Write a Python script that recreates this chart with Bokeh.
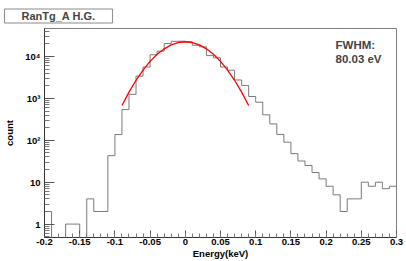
import numpy as np
from bokeh.plotting import figure
from bokeh.models import FixedTicker, Label, Range1d
from bokeh.embed import file_html
from bokeh.resources import INLINE

# ---------------- data ----------------
bin_left = [-0.20, -0.19, -0.18, -0.17, -0.16, -0.15, -0.14, -0.13, -0.12, -0.11,
            -0.10, -0.09, -0.08, -0.07, -0.06, -0.05, -0.04, -0.03, -0.02, -0.01,
            0.00, 0.01, 0.02, 0.03, 0.04, 0.05, 0.06, 0.07, 0.08, 0.09,
            0.10, 0.11, 0.12, 0.13, 0.14, 0.15, 0.16, 0.17, 0.18, 0.19,
            0.20, 0.21, 0.22, 0.23, 0.24, 0.25, 0.26, 0.27, 0.28, 0.29]
bin_width = 0.01
counts = [2, 0, 0, 1, 1, 0, 4, 2, 2, 43,
          137, 540, 1250, 3400, 5600, 11000, 13400, 20400, 23000, 23200,
          22400, 18500, 17000, 10500, 9300, 5600, 4700, 2750, 2040, 1110,
          810, 405, 246, 138, 90, 48, 32, 25, 17, 12,
          8, 5, 2, 4, 4, 10, 8, 10, 7, 8]

fit_x = [-0.09, -0.08, -0.07, -0.06, -0.05, -0.04, -0.03, -0.02, -0.01, 0.0,
         0.01, 0.02, 0.03, 0.04, 0.05, 0.06, 0.07, 0.08, 0.09]
fit_y = [678, 1415, 2705, 4740, 7630, 11260, 15250, 18920, 21550, 22500,
         21550, 18920, 15250, 11260, 7630, 4740, 2705, 1415, 678]

x_ticks = [-0.2, -0.15, -0.1, -0.05, 0.0, 0.05, 0.1, 0.15, 0.2, 0.25, 0.3]
x_tick_labels = ["-0.2", "-0.15", "-0.1", "-0.05", "0", "0.05", "0.1", "0.15", "0.2", "0.25", "0.3"]
y_ticks = [1, 10, 100, 1000, 10000]
y_tick_labels = ["1", "10", "10\u00b2", "10\u00b3", "10\u2074"]

title_text = "RanTg_A H.G."
fwhm_lines = ["FWHM:", "80.03 eV"]
x_title = "Energy(keV)"
y_title = "count"

# ---------------- layout helpers (pixel -> data, for text placement) ----------------
Y_LOG_MIN, Y_LOG_MAX = -0.32, 4.668
FRAME_L, FRAME_B, PX_PER_X, PX_PER_DEC = 44, 237, 704.0, 41.9


def wx(px):
    return -0.2 + (px - FRAME_L) / PX_PER_X


def wy(py):
    return 10 ** (Y_LOG_MIN + (FRAME_B - py) / PX_PER_DEC)


FONT = "Liberation Sans"

p = figure(width=406, height=261, y_axis_type="log",
           x_range=Range1d(-0.2, 0.3), y_range=Range1d(10 ** Y_LOG_MIN, 10 ** Y_LOG_MAX),
           output_backend="svg", toolbar_location=None,
           min_border_left=44, min_border_right=10, min_border_top=28, min_border_bottom=24)
p.background_fill_color = "white"
p.border_fill_color = "white"
p.outline_line_color = "#808080"
p.xgrid.visible = False
p.ygrid.visible = False

# title box
p.title.text = title_text
p.title.align = "left"
p.title.offset = -40
p.title.standoff = 11
p.title.text_font = FONT
p.title.text_font_style = "bold"
p.title.text_font_size = "11px"
p.title.background_fill_color = "white"
p.title.border_line_color = "#8a8a8a"
p.title.padding = dict(left=17, right=17, top=1, bottom=1)

# histogram outline
floor = 1e-3
heights = [c if c > 0 else floor for c in counts]
step_x = list(bin_left) + [bin_left[-1] + bin_width]
step_y = heights + [heights[-1]]
p.step(x=step_x, y=step_y, mode="after", line_color="#7a7a7a", line_width=1)

# gaussian fit curve
p.line(x=fit_x, y=fit_y, line_color="#ff0000", line_width=1.3)

# x axis
x_minor = [round(v, 3) for v in np.arange(-0.2, 0.3001, 0.01)]
p.xaxis.ticker = FixedTicker(ticks=x_ticks, minor_ticks=x_minor)
p.xaxis.major_label_overrides = dict(zip(x_ticks, x_tick_labels))
p.xaxis.major_tick_in = 7
p.xaxis.major_tick_out = 0
p.xaxis.minor_tick_in = 4
p.xaxis.minor_tick_out = 0
p.xaxis.major_label_standoff = 1
p.xaxis.axis_label = x_title
p.xaxis.axis_label_standoff = 0

# y axis
y_minor = [m * 10 ** e for e in range(-1, 5) for m in range(2, 10)]
p.yaxis.ticker = FixedTicker(ticks=y_ticks, minor_ticks=y_minor)
p.yaxis.major_label_overrides = dict(zip(y_ticks, y_tick_labels))
p.yaxis.major_tick_in = 10
p.yaxis.major_tick_out = 0
p.yaxis.minor_tick_in = 5
p.yaxis.minor_tick_out = 0
p.yaxis.major_label_standoff = 4
p.yaxis.axis_label = y_title
p.yaxis.axis_label_standoff = 7

for ax in (p.xaxis, p.yaxis):
    ax.axis_line_color = "#333333"
    ax.major_tick_line_color = "#555555"
    ax.minor_tick_line_color = "#777777"
    ax.major_label_text_font = FONT
    ax.major_label_text_font_style = "bold"
    ax.major_label_text_font_size = "9.5px"
    ax.major_label_text_color = "black"
    ax.axis_label_text_font = FONT
    ax.axis_label_text_font_style = "bold"
    ax.axis_label_text_font_size = "9.5px"
    ax.axis_label_text_color = "black"

for line, py in zip(fwhm_lines, [45, 59]):
    p.add_layout(Label(x=wx(335), y=wy(py), text=line, text_font=FONT,
                       text_font_style="bold", text_font_size="11.5px", text_align="left",
                       text_baseline="middle"))

open("out.html", "w").write(file_html(p, INLINE))
